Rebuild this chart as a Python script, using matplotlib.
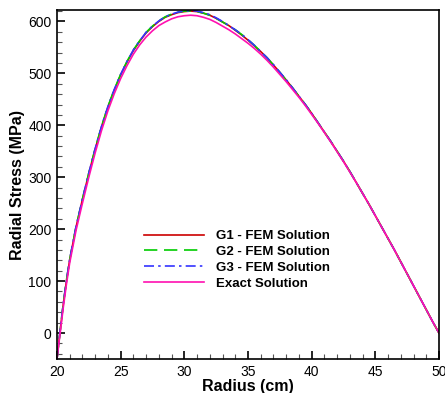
import matplotlib.pyplot as plt
from matplotlib.ticker import MultipleLocator

plt.rcParams['font.family'] = ['Liberation Sans', 'DejaVu Sans']

# radius (cm)
radius = [20, 20.25, 20.5, 20.75, 21, 21.5, 22, 22.5, 23, 23.5, 24, 24.5, 25,
          25.5, 26, 26.5, 27, 27.5, 28, 28.5, 29, 29.5, 30, 30.5, 31, 31.5,
          32, 32.5, 33, 33.5, 34, 34.5, 35, 35.5, 36, 36.5, 37, 37.5, 38,
          38.5, 39, 39.5, 40, 40.5, 41, 41.5, 42, 42.5, 43, 43.5, 44, 44.5,
          45, 45.5, 46, 46.5, 47, 47.5, 48, 48.5, 49, 49.5, 50]

# radial stress (MPa)
g1_fem = [-50, 4, 56, 101, 141, 204, 257, 307, 354, 397, 435, 468, 497,
          522, 544, 562, 578, 590, 600, 608, 613, 617, 619, 620, 619, 616,
          612, 606, 599, 592, 583, 574, 564, 553, 542, 530, 516, 502, 487,
          472, 456, 440, 423, 405, 387, 369, 350, 331, 311, 290, 269, 248,
          226, 204, 182, 160, 137, 114, 91, 68, 45, 22, 0]
g2_fem = [-50, 5, 57, 102, 141, 205, 258, 308, 355, 398, 436, 469, 498,
          523, 545, 563, 579, 591, 601, 609, 614, 618, 620, 620, 619, 616,
          612, 606, 599, 592, 584, 575, 565, 554, 542, 530, 516, 502, 487,
          472, 456, 440, 423, 405, 387, 369, 350, 331, 311, 290, 269, 248,
          226, 204, 182, 160, 137, 114, 91, 68, 45, 22, 0]
g3_fem = [-50, 5, 57, 102, 142, 205, 258, 308, 355, 398, 436, 469, 498,
          523, 545, 563, 579, 591, 601, 609, 614, 618, 620, 621, 620, 617,
          613, 607, 600, 592, 584, 575, 565, 554, 542, 530, 517, 502, 488,
          472, 456, 440, 423, 405, 387, 369, 350, 331, 311, 290, 269, 248,
          226, 204, 182, 160, 137, 114, 91, 68, 45, 22, 0]
exact = [-50, 0, 50, 95, 135, 198, 250, 300, 347, 390, 428, 461, 490,
         515, 537, 555, 570, 582, 592, 599, 605, 609, 611, 612, 611, 608,
         604, 598, 591, 584, 576, 567, 558, 548, 537, 525, 512, 498, 484,
         469, 454, 438, 421, 404, 386, 368, 349, 330, 310, 290, 269, 248,
         226, 204, 182, 160, 137, 114, 91, 68, 45, 22, 0]

fig = plt.figure(figsize=(4.45, 3.93), dpi=100)
ax = fig.add_axes([0.128, 0.0865, 0.8585, 0.888])

ax.plot(radius, g1_fem, color='#cc0000', lw=1.2, label='G1 - FEM Solution')
ax.plot(radius, g2_fem, color='#00cc00', lw=1.2, ls=(0, (8, 4)), label='G2 - FEM Solution')
ax.plot(radius, g3_fem, color='#3333ff', lw=1.2, ls=(0, (6, 2.5, 1.5, 2.5)), label='G3 - FEM Solution')
ax.plot(radius, exact, color='#ff10b0', lw=1.2, label='Exact Solution')

ax.set_xlim(20, 50)
ax.set_ylim(-50, 622)
ax.xaxis.set_major_locator(MultipleLocator(5))
ax.xaxis.set_minor_locator(MultipleLocator(1))
ax.yaxis.set_major_locator(MultipleLocator(100))
ax.yaxis.set_minor_locator(MultipleLocator(20))
ax.tick_params(which='both', direction='in', top=False, right=False, labelsize=10)
ax.tick_params(which='major', length=6, width=1.2, pad=4)
ax.tick_params(which='minor', length=3.5, width=0.8, color='#555555')
for s in ax.spines.values():
    s.set_linewidth(1.2)

ax.set_xlabel('Radius (cm)', fontsize=11.5, fontweight='bold', labelpad=0)
ax.set_ylabel('Radial Stress (MPa)', fontsize=11.5, fontweight='bold', labelpad=2)

ax.legend(loc='upper left', bbox_to_anchor=(0.213, 0.385), frameon=False,
          prop={'size': 9.5, 'weight': 'bold'}, handlelength=4.6,
          handletextpad=0.9, labelspacing=0.28, borderaxespad=0)

fig.savefig('out.png', dpi=100)
